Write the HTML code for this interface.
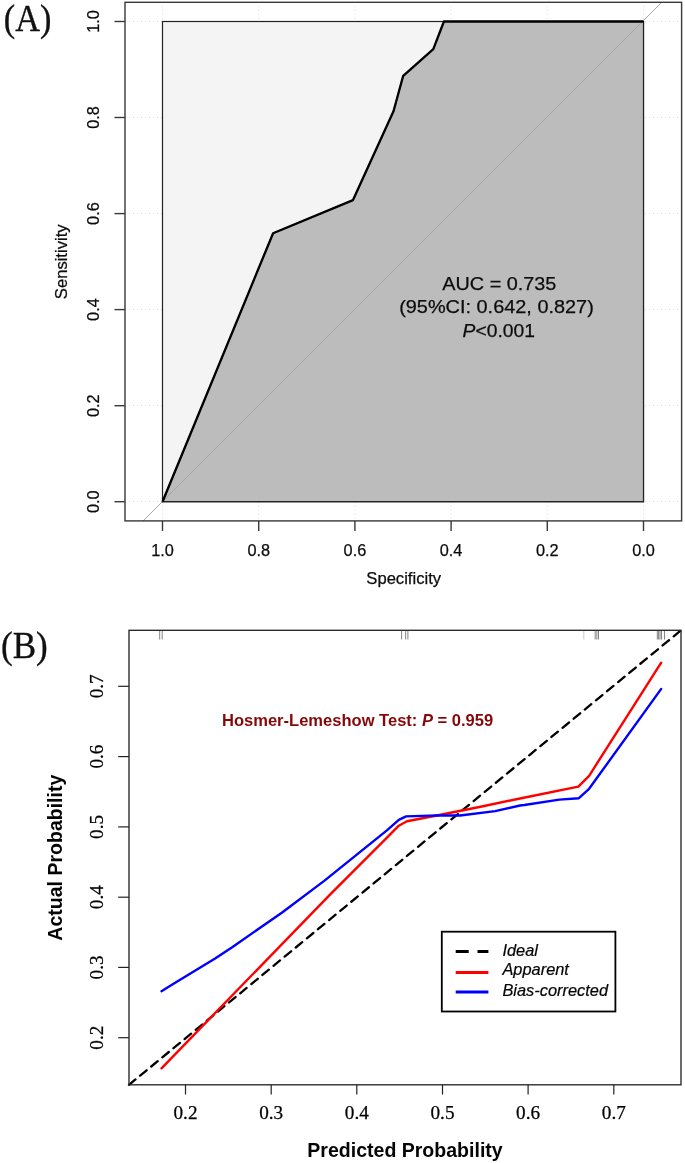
<!DOCTYPE html>
<html lang="en">
<head>
<meta charset="utf-8">
<title>ROC curve and calibration plot</title>
<style>
html,body{margin:0;padding:0;background:#fff;}
body{width:685px;height:1163px;overflow:hidden;}
svg{display:block;will-change:transform;}
.sans{font-family:"Liberation Sans",Arial,Helvetica,sans-serif;}
.serif{font-family:"Liberation Serif","Times New Roman",Times,serif;}
</style>
</head>
<body>
<svg width="685" height="1163" viewBox="0 0 685 1163">
<rect x="0" y="0" width="685" height="1163" fill="#ffffff"/>

<!-- ================= Panel A ================= -->
<g id="panelA">
  <!-- grid (dotted) -->
  <g stroke="#dcdcdc" stroke-width="1" stroke-dasharray="1 3" fill="none">
    <line x1="162.5" y1="2" x2="162.5" y2="521"/>
    <line x1="258.7" y1="2" x2="258.7" y2="521"/>
    <line x1="354.9" y1="2" x2="354.9" y2="521"/>
    <line x1="451.1" y1="2" x2="451.1" y2="521"/>
    <line x1="547.3" y1="2" x2="547.3" y2="521"/>
    <line x1="643.5" y1="2" x2="643.5" y2="521"/>
    <line x1="125" y1="21.5" x2="682" y2="21.5"/>
    <line x1="125" y1="117.5" x2="682" y2="117.5"/>
    <line x1="125" y1="213.6" x2="682" y2="213.6"/>
    <line x1="125" y1="309.6" x2="682" y2="309.6"/>
    <line x1="125" y1="405.7" x2="682" y2="405.7"/>
    <line x1="125" y1="501.7" x2="682" y2="501.7"/>
  </g>
  <!-- max auc polygon -->
  <rect x="162.5" y="21.5" width="481" height="480.2" fill="#f4f4f4" stroke="#222" stroke-width="1.2"/>
  <!-- auc polygon -->
  <polygon points="162.5,501.7 273.1,233.2 353,200.1 393.5,111.2 403.2,75.8 433.3,49.2 443.9,21.5 643.5,21.5 643.5,501.7" fill="#bcbcbc" stroke="#222" stroke-width="1.2" stroke-linejoin="miter"/>
  <!-- diagonal -->
  <line x1="143" y1="521" x2="662" y2="2" stroke="#a6a6a6" stroke-width="1"/>
  <!-- ROC line -->
  <polyline points="162.5,501.7 273.1,233.2 353,200.1 393.5,111.2 403.2,75.8 433.3,49.2 443.9,21.5 643.5,21.5" fill="none" stroke="#000" stroke-width="2.3" stroke-linejoin="round"/>
  <!-- outer box -->
  <rect x="125" y="2.3" width="556.6" height="518.6" fill="none" stroke="#383838" stroke-width="1.4"/>
  <!-- ticks -->
  <g stroke="#383838" stroke-width="1.4">
    <line x1="114.5" y1="21.5" x2="125" y2="21.5"/>
    <line x1="114.5" y1="117.5" x2="125" y2="117.5"/>
    <line x1="114.5" y1="213.6" x2="125" y2="213.6"/>
    <line x1="114.5" y1="309.6" x2="125" y2="309.6"/>
    <line x1="114.5" y1="405.7" x2="125" y2="405.7"/>
    <line x1="114.5" y1="501.7" x2="125" y2="501.7"/>
    <line x1="162.5" y1="521" x2="162.5" y2="531"/>
    <line x1="258.7" y1="521" x2="258.7" y2="531"/>
    <line x1="354.9" y1="521" x2="354.9" y2="531"/>
    <line x1="451.1" y1="521" x2="451.1" y2="531"/>
    <line x1="547.3" y1="521" x2="547.3" y2="531"/>
    <line x1="643.5" y1="521" x2="643.5" y2="531"/>
  </g>
  <!-- x tick labels -->
  <g class="sans" font-size="16.3" fill="#0c0c0c" stroke="#0c0c0c" stroke-width="0.25" text-anchor="middle">
    <text x="162.5" y="556">1.0</text>
    <text x="258.7" y="556">0.8</text>
    <text x="354.9" y="556">0.6</text>
    <text x="451.1" y="556">0.4</text>
    <text x="547.3" y="556">0.2</text>
    <text x="643.5" y="556">0.0</text>
  </g>
  <!-- y tick labels -->
  <g class="sans" font-size="16.3" fill="#0c0c0c" stroke="#0c0c0c" stroke-width="0.25" text-anchor="middle">
    <text transform="translate(98.5,21.5) rotate(-90)">1.0</text>
    <text transform="translate(98.5,117.5) rotate(-90)">0.8</text>
    <text transform="translate(98.5,213.6) rotate(-90)">0.6</text>
    <text transform="translate(98.5,309.6) rotate(-90)">0.4</text>
    <text transform="translate(98.5,405.7) rotate(-90)">0.2</text>
    <text transform="translate(98.5,501.7) rotate(-90)">0.0</text>
  </g>
  <text class="sans" font-size="16.6" fill="#0c0c0c" stroke="#0c0c0c" stroke-width="0.25" text-anchor="middle" x="403.7" y="583.9">Specificity</text>
  <text class="sans" font-size="16.6" fill="#0c0c0c" stroke="#0c0c0c" stroke-width="0.25" text-anchor="middle" transform="translate(67.3,261.8) rotate(-90)">Sensitivity</text>
  <!-- annotation -->
  <g class="sans" font-size="19" fill="#0c0c0c" stroke="#0c0c0c" stroke-width="0.25" text-anchor="middle">
    <text x="499.3" y="289.9" textLength="114" lengthAdjust="spacingAndGlyphs">AUC = 0.735</text>
    <text x="496.5" y="312.9" textLength="194.6" lengthAdjust="spacingAndGlyphs">(95%CI: 0.642, 0.827)</text>
    <text x="498.8" y="337.3" textLength="72.4" lengthAdjust="spacingAndGlyphs"><tspan font-style="italic">P</tspan>&lt;0.001</text>
  </g>
  <text class="serif" font-size="37" fill="#111" stroke="#111" stroke-width="0.35" x="3.8" y="30.7" textLength="47.6" lengthAdjust="spacingAndGlyphs">(A)</text>
</g>

<!-- ================= Panel B ================= -->
<g id="panelB">
  <!-- rug -->
  <g stroke="#777" stroke-width="0.9">
    <line x1="159.7" y1="630" x2="159.7" y2="639.5"/>
    <line x1="162.2" y1="630" x2="162.2" y2="639.5"/>
    <line x1="401.6" y1="630" x2="401.6" y2="639.5"/>
    <line x1="405.7" y1="630" x2="405.7" y2="639.5"/>
    <line x1="407.9" y1="630" x2="407.9" y2="639.5"/>
    <line x1="583.8" y1="630" x2="583.8" y2="639.5" stroke="#c4c4c4"/>
    <line x1="595.2" y1="630" x2="595.2" y2="639.5"/>
    <line x1="596.9" y1="630" x2="596.9" y2="639.5"/>
    <line x1="598.5" y1="630" x2="598.5" y2="639.5"/>
    <line x1="657.3" y1="630" x2="657.3" y2="639.5"/>
    <line x1="658.6" y1="630" x2="658.6" y2="639.5"/>
    <line x1="660" y1="630" x2="660" y2="639.5"/>
    <line x1="661.5" y1="630" x2="661.5" y2="639.5"/>
    <line x1="664.5" y1="630" x2="664.5" y2="639.5"/>
  </g>
  <!-- ideal -->
  <line x1="129" y1="1084.8" x2="681" y2="630.3" stroke="#000" stroke-width="2.3" stroke-dasharray="8.4 6" stroke-linecap="round"/>
  <!-- apparent (red) -->
  <polyline fill="none" stroke="#ff0000" stroke-width="2.4" stroke-linejoin="round" stroke-linecap="round"
    points="161.5,1068.3 330,894.6 387.2,837.4 398.8,825.7 407,821.3 436.8,815.5 480.6,806.7 520,798.5 578.3,786.6 589.1,775.8 661.2,662.7"/>
  <!-- bias-corrected (blue) -->
  <polyline fill="none" stroke="#0000ff" stroke-width="2.4" stroke-linejoin="round" stroke-linecap="round"
    points="161.5,991.2 172.3,984.5 214.7,958.8 232.2,947.2 281.8,912.7 324.2,880.9 387.2,830.1 398.8,819.9 406.1,816.4 436.8,815.5 460.1,815.5 495.2,811.1 520,805.5 524.3,805 559.4,799.6 578.9,798.2 589.1,788.8 661.2,688.9"/>
  <!-- box -->
  <rect x="129" y="630.3" width="552" height="454.5" fill="none" stroke="#262626" stroke-width="1.35"/>
  <!-- ticks -->
  <g stroke="#222" stroke-width="1.2">
    <line x1="118.2" y1="686.3" x2="129" y2="686.3"/>
    <line x1="118.2" y1="756.6" x2="129" y2="756.6"/>
    <line x1="118.2" y1="826.9" x2="129" y2="826.9"/>
    <line x1="118.2" y1="897.2" x2="129" y2="897.2"/>
    <line x1="118.2" y1="967.4" x2="129" y2="967.4"/>
    <line x1="118.2" y1="1037.7" x2="129" y2="1037.7"/>
    <line x1="185.5" y1="1084.8" x2="185.5" y2="1094.5"/>
    <line x1="271.2" y1="1084.8" x2="271.2" y2="1094.5"/>
    <line x1="356.8" y1="1084.8" x2="356.8" y2="1094.5"/>
    <line x1="442.5" y1="1084.8" x2="442.5" y2="1094.5"/>
    <line x1="528.1" y1="1084.8" x2="528.1" y2="1094.5"/>
    <line x1="613.8" y1="1084.8" x2="613.8" y2="1094.5"/>
  </g>
  <g class="serif" font-size="19.2" fill="#000" stroke="#000" stroke-width="0.25" text-anchor="middle">
    <text x="185.5" y="1119.3">0.2</text>
    <text x="271.2" y="1119.3">0.3</text>
    <text x="356.8" y="1119.3">0.4</text>
    <text x="442.5" y="1119.3">0.5</text>
    <text x="528.1" y="1119.3">0.6</text>
    <text x="613.8" y="1119.3">0.7</text>
  </g>
  <g class="serif" font-size="19.2" fill="#000" stroke="#000" stroke-width="0.25" text-anchor="middle">
    <text transform="translate(103.2,686.3) rotate(-90)">0.7</text>
    <text transform="translate(103.2,756.6) rotate(-90)">0.6</text>
    <text transform="translate(103.2,826.9) rotate(-90)">0.5</text>
    <text transform="translate(103.2,897.2) rotate(-90)">0.4</text>
    <text transform="translate(103.2,967.4) rotate(-90)">0.3</text>
    <text transform="translate(103.2,1037.7) rotate(-90)">0.2</text>
  </g>
  <text class="sans" font-size="19.55" font-weight="bold" fill="#050505" text-anchor="middle" x="405" y="1156.8">Predicted Probability</text>
  <text class="sans" font-size="19.55" font-weight="bold" fill="#050505" text-anchor="middle" transform="translate(61.8,857.7) rotate(-90)">Actual Probability</text>
  <text class="sans" font-size="16.55" font-weight="bold" fill="#850808" x="222" y="726">Hosmer-Lemeshow Test: <tspan font-style="italic">P</tspan> = 0.959</text>
  <!-- legend -->
  <rect x="441.8" y="931.7" width="173.6" height="79.8" fill="#fff" stroke="#000" stroke-width="1.8"/>
  <line x1="455.7" y1="951.5" x2="488.4" y2="951.5" stroke="#000" stroke-width="2.9" stroke-dasharray="13 8.8"/>
  <line x1="455.7" y1="972.5" x2="488.4" y2="972.5" stroke="#ff0000" stroke-width="2.9"/>
  <line x1="455.7" y1="992" x2="488.4" y2="992" stroke="#0000ff" stroke-width="2.9"/>
  <g class="sans" font-size="16.4" font-style="italic" fill="#050505" stroke="#050505" stroke-width="0.2">
    <text x="502.4" y="955.6">Ideal</text>
    <text x="502.4" y="975">Apparent</text>
    <text x="502.4" y="996.1">Bias-corrected</text>
  </g>
  <text class="serif" font-size="37" fill="#111" stroke="#111" stroke-width="0.35" x="1" y="658" textLength="46.8" lengthAdjust="spacingAndGlyphs">(B)</text>
</g>
</svg>
</body>
</html>
